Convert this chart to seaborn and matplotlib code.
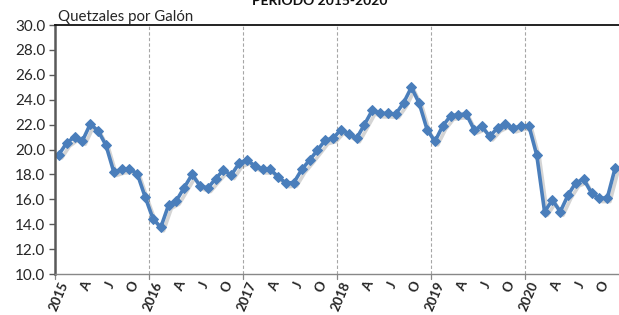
import numpy as np
import pandas as pd
import seaborn as sns
import matplotlib.pyplot as plt
import matplotlib.patheffects as pe

# precio mensual (Q/galón), ene 2015 - dic 2020
y2015 = [19.6, 20.55, 21.0, 20.7, 22.05, 21.5, 20.35, 18.2, 18.4, 18.45, 18.05, 16.2]
y2016 = [14.45, 13.75, 15.55, 15.9, 16.95, 18.0, 17.1, 16.9, 17.65, 18.35, 17.95, 18.9]
y2017 = [19.15, 18.7, 18.4, 18.4, 17.8, 17.3, 17.35, 18.4, 19.15, 19.95, 20.75, 20.9]
y2018 = [21.6, 21.25, 20.9, 22.0, 23.15, 22.9, 22.9, 22.85, 23.75, 25.0, 23.7, 21.6]
y2019 = [20.65, 21.9, 22.7, 22.8, 22.85, 21.6, 21.85, 21.05, 21.75, 22.05, 21.7, 21.9]
y2020 = [21.9, 19.55, 15.0, 15.95, 15.0, 16.35, 17.35, 17.6, 16.5, 16.1, 16.1, 18.5]

years = ['2015', '2016', '2017', '2018', '2019', '2020']
quarter_labels = ['A', 'J', 'O']

precio = y2015 + y2016 + y2017 + y2018 + y2019 + y2020
df = pd.DataFrame({'mes': np.arange(len(precio)), 'precio': precio})

sns.set_style('white')
plt.rcParams['font.family'] = ['Lato', 'DejaVu Sans']

fig = plt.figure(figsize=(6.19, 3.15), dpi=100)
ax = fig.add_axes([0.0889, 0.130, 0.9111, 0.7906])

# sombra de la serie
sns.lineplot(data=df, x='mes', y='precio', ax=ax, color='#4a7ebb', linewidth=2.6,
             path_effects=[pe.SimpleLineShadow(offset=(2, -2.5), alpha=0.25, shadow_color='#555555')])
sns.lineplot(data=df, x='mes', y='precio', ax=ax, color='#4a7ebb', linewidth=2.6,
             marker='D', markersize=5.5, markeredgecolor='#4a7ebb')

ax.set_xlim(-0.5, len(precio) - 0.5)
ax.set_ylim(10, 30)
ax.set_yticks(np.arange(10, 31, 2))
ax.set_yticklabels([f'{v:.1f}' for v in np.arange(10, 31, 2)], fontsize=11, color='#262626')

# etiquetas del eje x: año y trimestres
pos = []
labs = []
for k, yr in enumerate(years):
    pos.append(12 * k)
    labs.append(yr)
    for j, q in enumerate(quarter_labels):
        pos.append(12 * k + 3 * (j + 1))
        labs.append(q)
ax.set_xticks(pos)
ax.set_xticklabels(labs, rotation=67, ha='right', rotation_mode='anchor',
                   fontsize=9.5, fontweight='bold', color='#262626')
ax.tick_params(axis='x', length=0, pad=4)
ax.tick_params(axis='y', length=4, width=1, color='#595959', direction='out', left=True, pad=3)

# líneas divisorias de años
for b in range(1, len(years)):
    ax.axvline(12 * b - 0.5, color='#a6a6a6', linestyle=(0, (3, 2)), linewidth=0.8, zorder=0)
for b in range(len(years)):
    ax.plot([12 * b - 0.5, 12 * b - 0.5], [10, 9.6], color='#888888', linewidth=0.9,
            clip_on=False)

ax.spines['left'].set_color('#595959')
ax.spines['left'].set_linewidth(1.8)
ax.spines['bottom'].set_color('#888888')
ax.spines['bottom'].set_linewidth(1.0)
ax.spines['top'].set_color('#111111')
ax.spines['top'].set_linewidth(1.3)
ax.spines['right'].set_visible(False)

ax.set_xlabel('')
ax.set_ylabel('')

fig.text(0.094, 0.945, 'Quetzales por Galón', fontsize=10.8, color='#262626', va='center')
fig.text(0.517, 0.985, 'PERIODO 2015-2020', fontsize=10, fontweight='bold', ha='center',
         va='baseline', color='#111111')

fig.savefig('out.png', dpi=100)
